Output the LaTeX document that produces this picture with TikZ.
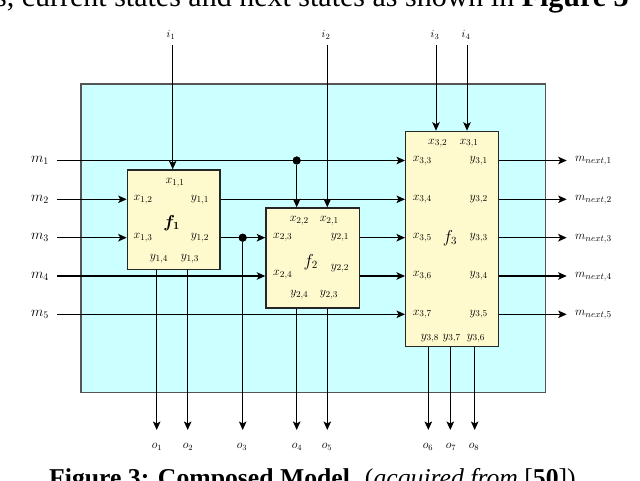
\documentclass[tikz,border=0pt]{standalone}
\usepackage{fontspec}
\setmainfont{Liberation Serif}
\usepackage{amsmath}
\usetikzlibrary{arrows.meta}
\definecolor{bgcyan}{HTML}{CCFFFF}
\definecolor{boxyellow}{HTML}{FFFACD}
\definecolor{framegray}{HTML}{555555}
\begin{document}
\begin{tikzpicture}[x=1pt,y=-1pt,
  wire/.style={line width=1pt, draw=black},
  heavy/.style={line width=1.5pt},
  arr/.style={-{Stealth[length=8.5pt,width=7.5pt,inset=2pt]}},
  fbox/.style={draw=black!85, line width=1.3pt, fill=boxyellow, inner sep=0, anchor=north west},
  port/.style={font=\fontsize{12.5}{12.5}\selectfont, inner sep=0},
  flabel/.style={font=\fontsize{16}{16}\selectfont, inner sep=0},
  mlab/.style={font=\fontsize{14}{14}\selectfont, inner sep=0},
  nlab/.style={font=\fontsize{12.5}{12.5}\selectfont, inner sep=0, anchor=west},
  ilab/.style={font=\fontsize{11}{11}\selectfont, inner sep=0},
  olab/.style={font=\fontsize{11.5}{11.5}\selectfont, inner sep=0},
  dot/.style={circle, fill=black, inner sep=0, minimum size=8pt},
  toptextstyle/.style={font=\fontsize{30}{30}\selectfont, inner sep=0},
  captionstyle/.style={font=\fontsize{25.7}{25.7}\selectfont, inner sep=0},
]
\path[use as bounding box] (0,0) rectangle (640,481);
\clip (0,0) rectangle (640,481);

% surrounding texts (cropped)
\node[toptextstyle, anchor=base west] (toptext) at (-5,7) {s, current states and next states as shown in \textbf{Figure 3}};
\node[captionstyle, anchor=base] (caption) at (312.5,486) {\textbf{Figure 3: Composed Model.} (\textit{acquired from} [\textbf{50}])};

% background
\node[draw=framegray, line width=1.5pt, fill=bgcyan, inner sep=0, anchor=north west,
      minimum width=464.5pt, minimum height=308pt] (bg) at (80,83.5) {};

% function boxes
\node[fbox, minimum width=92.6pt, minimum height=99.7pt] (f1) at (126.7,169.3) {};
\node[fbox, minimum width=93.4pt, minimum height=100pt] (f2) at (265.3,207.3) {};
\node[fbox, minimum width=92.7pt, minimum height=215.3pt] (f3) at (405,130.7) {};

% row coordinates (free ends)
\coordinate (m1s) at (57,160.5);
\coordinate (m2s) at (57,199.3);
\coordinate (m3s) at (57,237.7);
\coordinate (m4s) at (57,276);
\coordinate (m5s) at (57,314.3);
\coordinate (n1e) at (566.7,160.5);
\coordinate (n2e) at (566.7,199.3);
\coordinate (n3e) at (566.7,237.7);
\coordinate (n4e) at (566.7,276);
\coordinate (n5e) at (566.7,314.3);
\coordinate (i1s) at (172.7,45);
\coordinate (i2s) at (327.3,45);
\coordinate (i3s) at (436,45);
\coordinate (i4s) at (467,45);
\coordinate (o1e) at (156.7,430);
\coordinate (o2e) at (187.7,430);
\coordinate (o3e) at (242.7,430);
\coordinate (o4e) at (296.7,430);
\coordinate (o5e) at (327.3,430);
\coordinate (o6e) at (428.3,430);
\coordinate (o7e) at (450.3,430);
\coordinate (o8e) at (474.7,430);

% branch dots
\node[dot] (d1) at (296.7,160.5) {};
\node[dot] (d2) at (242.7,237.7) {};

% horizontal wires
\draw[wire, arr] (m1s) -- (m1s -| f3.west);
\draw[wire, arr] (m2s) -- (m2s -| f1.west);
\draw[wire, heavy, arr] (m3s) -- (m3s -| f1.west);
\draw[wire, heavy, arr] (m4s) -- (m4s -| f2.west);
\draw[wire, arr] (m5s) -- (m5s -| f3.west);
\draw[wire, arr] (m2s -| f1.east) -- (m2s -| f3.west);
\draw[wire, heavy, arr] (m3s -| f1.east) -- (m3s -| f2.west);
\draw[wire, heavy, arr] (m3s -| f2.east) -- (m3s -| f3.west);
\draw[wire, heavy, arr] (m4s -| f2.east) -- (m4s -| f3.west);
\draw[wire, arr] (n1e -| f3.east) -- (n1e);
\draw[wire, arr] (n2e -| f3.east) -- (n2e);
\draw[wire, heavy, arr] (n3e -| f3.east) -- (n3e);
\draw[wire, heavy, arr] (n4e -| f3.east) -- (n4e);
\draw[wire, arr] (n5e -| f3.east) -- (n5e);

% vertical wires
\draw[wire, arr] (i1s) -- (i1s |- f1.north);
\draw[wire, arr] (i2s) -- (i2s |- f2.north);
\draw[wire, arr] (i3s) -- (i3s |- f3.north);
\draw[wire, arr] (i4s) -- (i4s |- f3.north);
\draw[wire, heavy, arr] (d1) -- (d1 |- f2.north);
\draw[wire, arr] (o1e |- f1.south) -- (o1e);
\draw[wire, arr] (o2e |- f1.south) -- (o2e);
\draw[wire, arr] (d2) -- (o3e);
\draw[wire, heavy, arr] (o4e |- f2.south) -- (o4e);
\draw[wire, arr] (o5e |- f2.south) -- (o5e);
\draw[wire, arr] (o6e |- f3.south) -- (o6e);
\draw[wire, arr] (o7e |- f3.south) -- (o7e);
\draw[wire, arr] (o8e |- f3.south) -- (o8e);
\node[dot] at (d1) {};
\node[dot] at (d2) {};

% outer labels
\node[mlab] (lm1) at (40,160.5) {$m_1$};
\node[mlab] (lm2) at (40,199.3) {$m_2$};
\node[mlab] (lm3) at (40,237.7) {$m_3$};
\node[mlab] (lm4) at (40,276) {$m_4$};
\node[mlab] (lm5) at (40,314.3) {$m_5$};
\node[nlab] (ln1) at (575,161) {$m_{next,1}$};
\node[nlab] (ln2) at (575,200) {$m_{next,2}$};
\node[nlab] (ln3) at (575,238.5) {$m_{next,3}$};
\node[nlab] (ln4) at (575,277) {$m_{next,4}$};
\node[nlab] (ln5) at (575,315) {$m_{next,5}$};
\node[ilab] (li1) at (171,35) {$i_1$};
\node[ilab] (li2) at (326,35) {$i_2$};
\node[ilab] (li3) at (435,35) {$i_3$};
\node[ilab] (li4) at (466,35) {$i_4$};
\node[olab] (lo1) at (157,447) {$o_1$};
\node[olab] (lo2) at (188,447) {$o_2$};
\node[olab] (lo3) at (242,447) {$o_3$};
\node[olab] (lo4) at (297,447) {$o_4$};
\node[olab] (lo5) at (327,447) {$o_5$};
\node[olab] (lo6) at (428,447) {$o_6$};
\node[olab] (lo7) at (451,447) {$o_7$};
\node[olab] (lo8) at (474,447) {$o_8$};

% f1 ports
\node[port] (x11) at (175,183) {$x_{1,1}$};
\node[port] (x12) at (143,200) {$x_{1,2}$};
\node[port] (y11) at (200,200) {$y_{1,1}$};
\node[flabel] (tf1) at (171.7,223) {$\boldsymbol{f_1}$};
\node[port] (x13) at (143,238) {$x_{1,3}$};
\node[port] (y12) at (200,238) {$y_{1,2}$};
\node[port] (y14) at (159,259) {$y_{1,4}$};
\node[port] (y13) at (190,259) {$y_{1,3}$};
% f2 ports
\node[port] (x22) at (299.3,220.7) {$x_{2,2}$};
\node[port] (x21) at (329.3,220.7) {$x_{2,1}$};
\node[port] (x23) at (282.7,237.3) {$x_{2,3}$};
\node[port] (y21) at (340,237.3) {$y_{2,1}$};
\node[flabel] (tf2) at (310.7,261.7) {$f_2$};
\node[port] (y22) at (340,268.3) {$y_{2,2}$};
\node[port] (x24) at (282.7,275) {$x_{2,4}$};
\node[port] (y24) at (299.3,295) {$y_{2,4}$};
\node[port] (y23) at (329,295) {$y_{2,3}$};
% f3 ports
\node[port] (x32) at (437.7,143.3) {$x_{3,2}$};
\node[port] (x31) at (469,143.3) {$x_{3,1}$};
\node[port] (x33) at (422.3,160.7) {$x_{3,3}$};
\node[port] (y31) at (478.7,160.7) {$y_{3,1}$};
\node[port] (x34) at (422.3,199.3) {$x_{3,4}$};
\node[port] (y32) at (478.7,199.3) {$y_{3,2}$};
\node[port] (x35) at (422.3,237.7) {$x_{3,5}$};
\node[flabel] (tf3) at (450,238) {$f_3$};
\node[port] (y33) at (478.7,237.7) {$y_{3,3}$};
\node[port] (x36) at (422.3,276) {$x_{3,6}$};
\node[port] (y34) at (478.7,276) {$y_{3,4}$};
\node[port] (x37) at (422.3,314.3) {$x_{3,7}$};
\node[port] (y35) at (478.7,314.3) {$y_{3,5}$};
\node[port] (y38) at (430,338.3) {$y_{3,8}$};
\node[port] (y37) at (451.7,338.3) {$y_{3,7}$};
\node[port] (y36) at (476,338.3) {$y_{3,6}$};
\end{tikzpicture}
\end{document}
